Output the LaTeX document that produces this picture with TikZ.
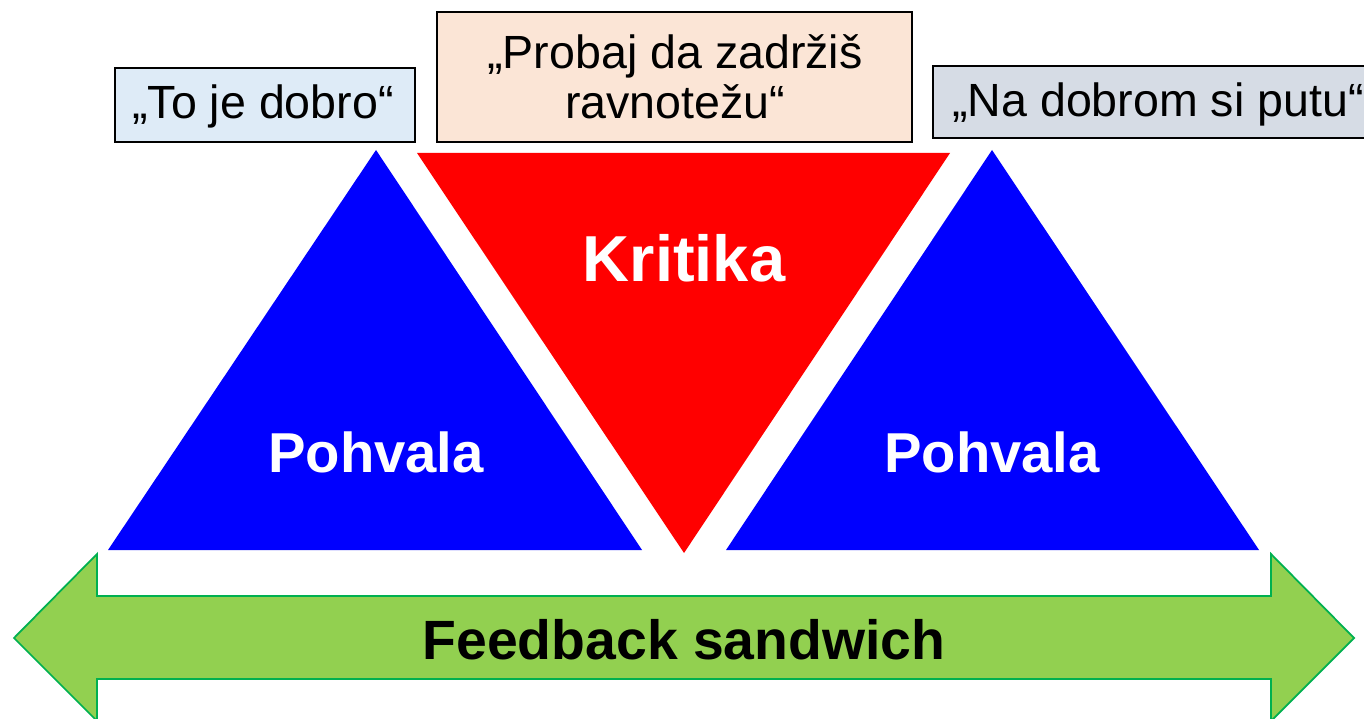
\documentclass[tikz,border=0pt]{standalone}
\usepackage{fontspec}
\setmainfont{Liberation Sans}

\definecolor{praise}{RGB}{0,0,255}
\definecolor{critic}{RGB}{255,0,0}
\definecolor{arrowfill}{RGB}{146,208,80}
\definecolor{arrowline}{RGB}{0,176,80}
\definecolor{quoteblue}{RGB}{222,235,247}
\definecolor{quotepeach}{RGB}{251,229,214}
\definecolor{quotegray}{RGB}{214,220,229}

\tikzset{
  quote/.style={draw=black, line width=0.7pt, inner sep=0pt},
  quotetext/.style={font=\fontsize{26.5}{28.5}\selectfont, align=center},
  bigword/.style={text=white, font=\bfseries\fontsize{32}{36}\selectfont}
}

\begin{document}
\begin{tikzpicture}[x=0.02cm,y=-0.02cm]
\useasboundingbox (0,0) rectangle (1364,719);

% quote boxes
\filldraw[quote, fill=quoteblue] (115,68) rectangle (415,142);
\node[quotetext] (good) at (263,106) {„To je dobro“};
\filldraw[quote, fill=quotepeach] (437,12) rectangle (912,142);
\node[quotetext] (balance) at (675,77) {„Probaj da zadržiš\\ravnotežu“};
\filldraw[quote, fill=quotegray] (933,66) rectangle (1380,138);
\node[quotetext, anchor=west] (path) at (946,104) {„Na dobrom si putu“};

% triangles
\fill[praise] (376,150) coordinate (l_top) -- (642,550) -- (108,550) -- cycle;
\fill[critic] (417,153) -- (950,153) -- (684,553) coordinate (c_tip) -- cycle;
\fill[praise] (992,150) coordinate (r_top) -- (1259,550) -- (726,550) -- cycle;
\node[bigword] (leftpraise) at (376,452) {Pohvala};
\node[bigword, font=\bfseries\fontsize{37}{40}\selectfont] (critique) at (684,258) {Kritika};
\node[bigword] (rightpraise) at (992,452) {Pohvala};

% double arrow
\filldraw[fill=arrowfill, draw=arrowline, line width=1pt, line join=miter]
  (14,638) -- (97,554) -- (97,596) -- (1271,596) -- (1271,554)
  -- (1354,638) -- (1271,721) -- (1271,679) -- (97,679) -- (97,721) -- cycle;
\node[font=\bfseries\fontsize{31.5}{34}\selectfont] (sandwich) at (684,640) {Feedback sandwich};
\end{tikzpicture}
\end{document}
